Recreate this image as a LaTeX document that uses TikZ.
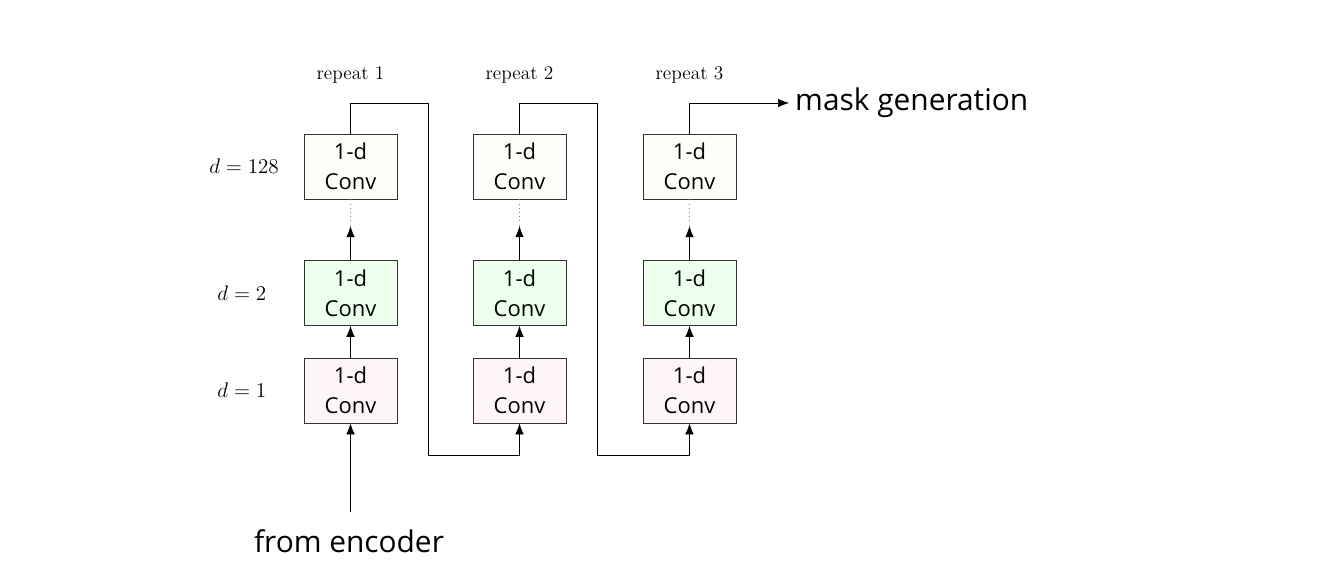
\documentclass[tikz,border=0pt]{standalone}
\usepackage{fontspec}
\newfontfamily\sansf{Open Sans}
\usetikzlibrary{positioning,arrows.meta}
\tikzset{
  conv/.style={draw=black!80,thin,minimum width=1.86cm,minimum height=1.3cm,align=center,inner sep=0pt,font=\sansf\fontsize{12.5}{17}\selectfont},
  top/.style={conv,fill=yellow!2!white},
  mid/.style={conv,fill=green!7!white},
  bot/.style={conv,fill=magenta!4!white},
  link/.style={thin,-{Latex[length=2.2mm,width=1.7mm]}},
}
\begin{document}
\begin{tikzpicture}
\useasboundingbox (0,0) rectangle (26.64,11.48);
% boxes
\foreach \c/\x in {1/7.01,2/10.39,3/13.79}{
  \node[top] (t\c) at (\x,8.15) {1-d\\Conv};
  \node[mid] (m\c) at (\x,5.62) {1-d\\Conv};
  \node[bot] (b\c) at (\x,3.67) {1-d\\Conv};
  \node[font=\fontsize{11}{13}\selectfont] (r\c) at (\x,9.98) {repeat \c};
  \coordinate (u\c) at (\x,9.42);
  \coordinate (l\c) at (\x,2.38);
  \draw[link] (b\c) -- (m\c);
  \draw[link] (m\c.north) -- ++(0,0.68);
  \draw[dotted,gray] (t\c.south) -- ++(0,-0.52);
  \draw (t\c) -- (u\c);
}
% depth labels
\node[anchor=east,font=\large] (d1) at (5.7,8.15) {$d=128$};
\node[anchor=east,font=\large] (d2) at (5.45,5.62) {$d=2$};
\node[anchor=east,font=\large] (d3) at (5.45,3.67) {$d=1$};
% input
\node[font=\sansf\fontsize{17}{20}\selectfont] (enc) at (6.98,0.65) {from encoder};
\coordinate (in) at (7.01,1.24);
\draw[link] (in) -- (b1);
% repeat links
\draw[link] (u1) -| (8.56,2.38) -- (l2) -- (b2);
\draw[link] (u2) -| (11.94,2.38) -- (l3) -- (b3);
\node[anchor=west,font=\sansf\fontsize{17}{20}\selectfont] (out) at (15.78,9.42) {mask generation};
\draw[link] (u3) -- (out.west);
\end{tikzpicture}
\end{document}
